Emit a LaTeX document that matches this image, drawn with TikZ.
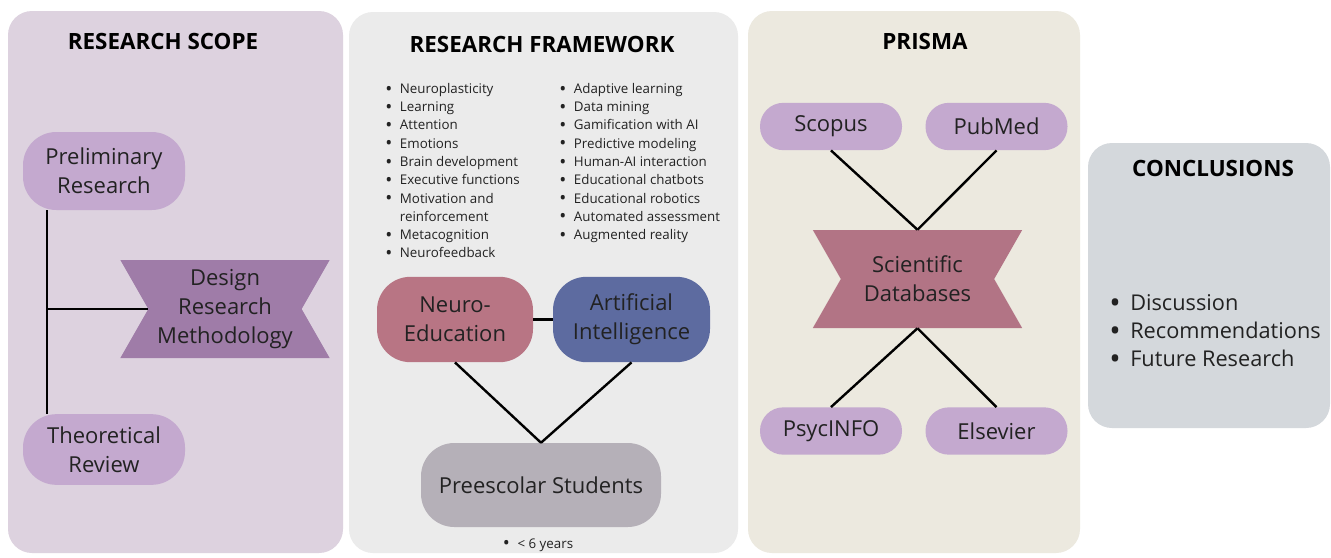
\documentclass[tikz,border=0pt]{standalone}
\usepackage{fontspec}
\setmainfont{Open Sans}

\definecolor{scopebg}{HTML}{DDD2DF}
\definecolor{framebg}{HTML}{EBEBEB}
\definecolor{prismabg}{HTML}{ECE9DF}
\definecolor{conclbg}{HTML}{D4D8DC}
\definecolor{lilac}{HTML}{C4A9CF}
\definecolor{plum}{HTML}{9F7CA8}
\definecolor{rose}{HTML}{B87584}
\definecolor{slate}{HTML}{5D6BA0}
\definecolor{ash}{HTML}{B5B0B8}
\definecolor{berry}{HTML}{B27485}
\definecolor{txt}{HTML}{222222}

\tikzset{
  panel/.style={fill=#1, rounded corners=18pt},
  head/.style={font=\fontsize{16.8}{20}\selectfont\bfseries, inner sep=0pt},
  pill/.style={fill=#1, rounded corners=25pt, align=center, inner sep=0pt,
    text=txt, font=\fontsize{16.5}{22}\selectfont},
  tag/.style={fill=lilac, rounded corners=17.5pt, minimum width=106.5pt,
    minimum height=35.5pt, inner sep=0pt, text=txt,
    font=\fontsize{16.5}{22}\selectfont},
  ribbon/.style={minimum width=157pt, minimum height=73.5pt, inner sep=0pt,
    align=center, text=txt, font=\fontsize{16.5}{22}\selectfont,
    path picture={\fill[#1] (path picture bounding box.north west)
      -- ([xshift=21pt]path picture bounding box.west)
      -- (path picture bounding box.south west)
      -- (path picture bounding box.south east)
      -- ([xshift=-21pt]path picture bounding box.east)
      -- (path picture bounding box.north east) -- cycle;}},
  link/.style={line width=1.8pt, black},
  bullets/.style={align=left, inner sep=0pt, text=txt,
    font=\fontsize{10}{13.7}\selectfont},
}
% list entry with a bullet in a box of fixed width
\newcommand\itm[2][11pt]{\makebox[#1][l]{\raisebox{-0.12em}{\scalebox{1.4}{\textbullet}}}#2}
\newcommand\cont[2][11pt]{\hspace*{#1}#2}

\begin{document}
\begin{tikzpicture}[x=0.75pt, y=-0.75pt]
  \useasboundingbox[fill=white] (0,0) rectangle (1331,557);

  % panels
  \fill[panel=scopebg] (8,11) rectangle (343,553);
  \fill[panel=framebg] (349,12) rectangle (738,553);
  \fill[panel=prismabg] (748,11) rectangle (1080,553);
  \fill[panel=conclbg] (1088,143) rectangle (1330,428);

  \node[head] (scopeh) at (163,41) {RESEARCH SCOPE};
  \node[head] (frameh) at (542,44) {RESEARCH FRAMEWORK};
  \node[head] (prismah) at (925,41) {PRISMA};
  \node[head] (conclh) at (1213,168) {CONCLUSIONS};

  % research scope
  \node[pill=lilac, minimum width=121.5pt, minimum height=58.5pt] (prelim) at (104,171) {Preliminary\\Research};
  \node[pill=lilac, minimum width=121.5pt, minimum height=53pt] (theory) at (104,449.5) {Theoretical\\Review};
  \node[ribbon=plum] (dsgn) at (225,309) {Design\\Research\\Methodology};
  \coordinate (spine) at (47,309);

  \draw[link] (prelim.south -| spine) -- (theory.north -| spine); % prelim-theory
  \draw[link] (spine) -- ([xshift=21pt]dsgn.west); % spine-dsgn

  % research framework
  \node[bullets, anchor=north west] (neurolist) at (385,83) {%
    \itm{Neuroplasticity}\\ \itm{Learning}\\ \itm{Attention}\\ \itm{Emotions}\\
    \itm{Brain development}\\ \itm{Executive functions}\\ \itm{Motivation and}\\
    \cont{reinforcement}\\ \itm{Metacognition}\\ \itm{Neurofeedback}};
  \node[bullets, anchor=north west] (ailist) at (559,83) {%
    \itm{Adaptive learning}\\ \itm{Data mining}\\ \itm{Gamification with AI}\\
    \itm{Predictive modeling}\\ \itm{Human-AI interaction}\\ \itm{Educational chatbots}\\
    \itm{Educational robotics}\\ \itm{Automated assessment}\\ \itm{Augmented reality}};

  \node[pill=rose, minimum width=117pt, minimum height=64pt] (neuro) at (455,319.5) {Neuro-\\Education};
  \node[pill=slate, minimum width=117.75pt, minimum height=64pt] (ai) at (631.5,319.5) {Artificial\\Intelligence};
  \node[pill=ash, minimum width=180pt, minimum height=63pt] (pre) at (541,485) {Preescolar Students};
  \node[bullets] (age) at (538,545) {\itm{< 6 years}};

  \draw[link] (neuro.east) -- (ai.west); % neuro-ai
  \draw[link] (neuro.south) -- (pre.north); % neuro-pre
  \draw[link] (ai.south) -- (pre.north); % ai-pre

  % prisma
  \node[tag] (scopus) at (831,126.5) {Scopus};
  \node[tag] (pubmed) at (996.5,126.5) {PubMed};
  \node[ribbon=berry] (sci) at (917.5,279) {Scientific\\Databases};
  \node[tag] (psyc) at (831,431) {PsycINFO};
  \node[tag] (els) at (996.5,431) {Elsevier};

  \draw[link] (scopus.south) -- (sci.north); % scopus-sci
  \draw[link] (pubmed.south) -- (sci.north); % pubmed-sci
  \draw[link] (sci.south) -- (psyc.north); % sci-psyc
  \draw[link] (sci.south) -- (els.north); % sci-els

  % conclusions
  \node[bullets, anchor=west, font=\fontsize{16.3}{21}\selectfont] (conclist) at (1109,332) {%
    \itm[15.75pt]{Discussion}\\ \itm[15.75pt]{Recommendations}\\ \itm[15.75pt]{Future Research}};
\end{tikzpicture}
\end{document}
